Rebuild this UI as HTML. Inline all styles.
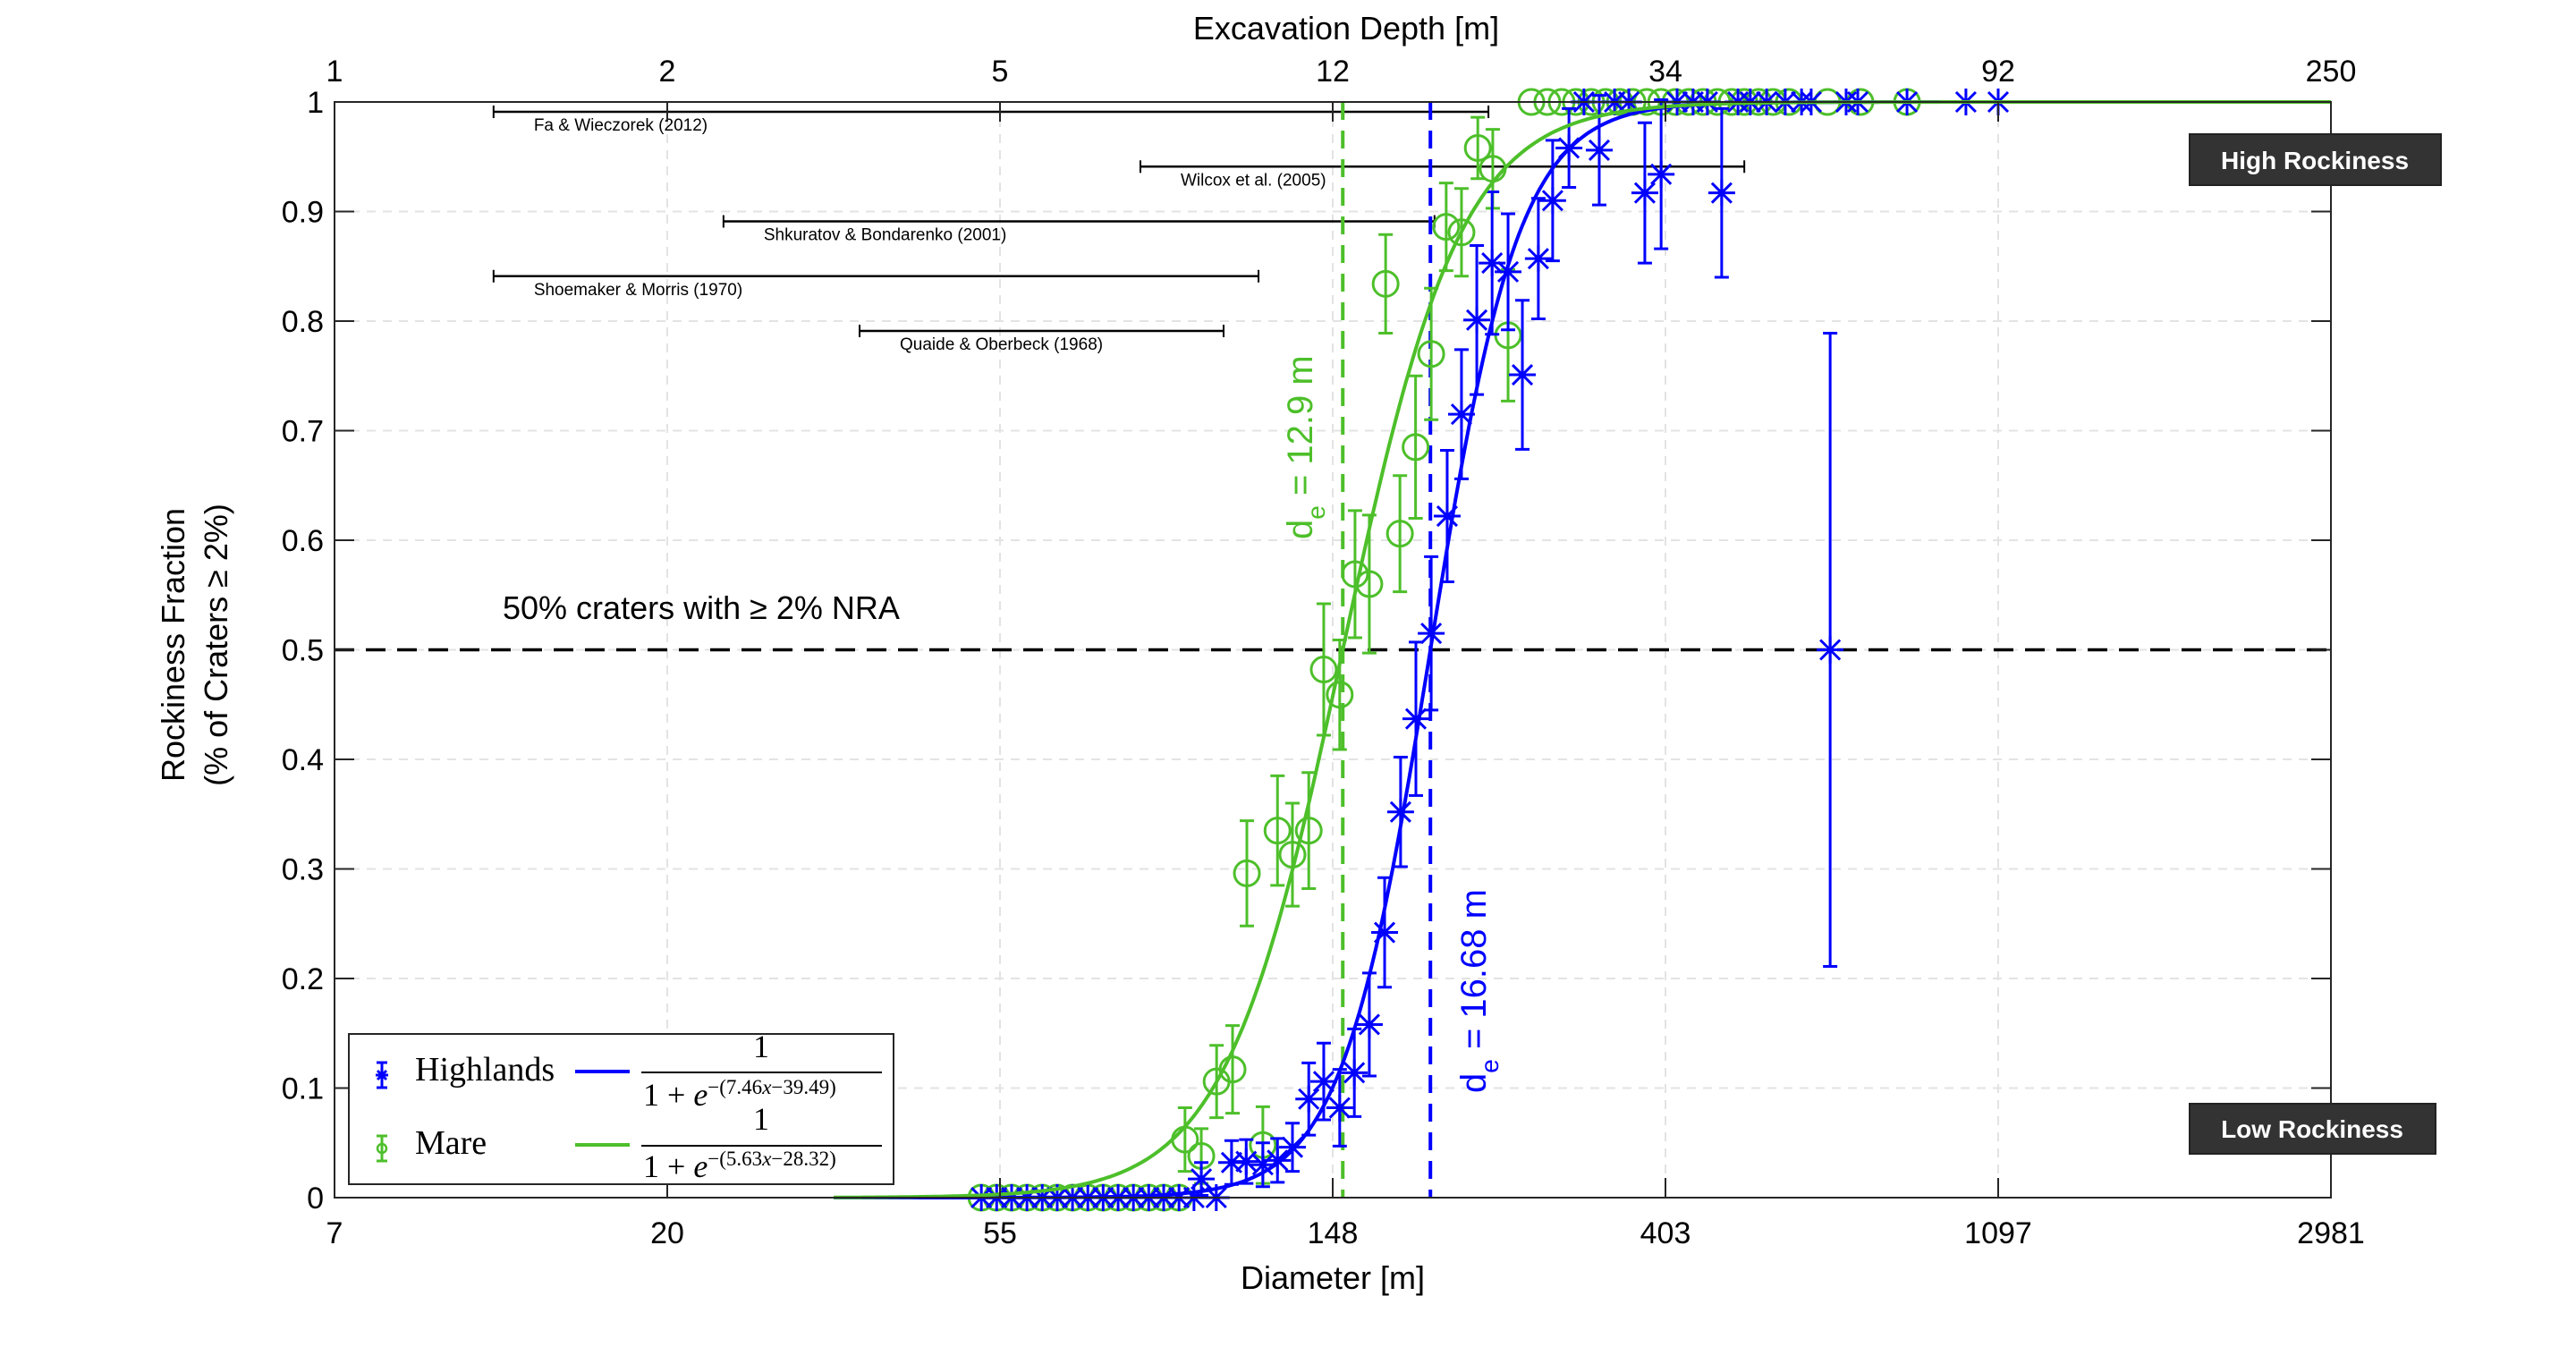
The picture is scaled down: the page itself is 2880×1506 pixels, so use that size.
<!DOCTYPE html>
<html><head><meta charset="utf-8"><title>Rockiness Fraction vs Diameter</title>
<style>
html,body{margin:0;padding:0;background:#fff;}
svg{display:block;font-family:"Liberation Sans",Arial,sans-serif;}
</style></head>
<body>
<svg id="chart" width="2880" height="1506" viewBox="0 0 2880 1506" xmlns="http://www.w3.org/2000/svg">
<rect x="0" y="0" width="2880" height="1506" fill="#fff"/>
<g id="grid"></g>
<g id="refs"></g>
<g id="guides"></g>
<g id="marks"></g>
<g id="axes"></g>
<g id="annot"></g>
</svg>
<script>
// ---- data (x values are ln(Diameter [m])) ----
const xTickLabels = ["7","20","55","148","403","1097","2981"];
const xTopTickLabels = ["1","2","5","12","34","92","250"];
const xTickLogs = [2,3,4,5,6,7,8];
const yTicks = [0,0.1,0.2,0.3,0.4,0.5,0.6,0.7,0.8,0.9,1];
const yTickLabels = ["0","0.1","0.2","0.3","0.4","0.5","0.6","0.7","0.8","0.9","1"];

const highlandsLogD = [3.944,3.990,4.035,4.081,4.127,4.172,4.218,4.264,4.310,4.355,4.401,4.447,4.492,4.538,4.583,4.650,
  4.605,4.696,4.740,4.790,4.834,4.879,4.928,4.973,5.021,5.065,5.110,5.156,5.204,5.250,5.296,5.344,5.387,5.433,5.479,5.527,5.570,5.618,5.661,5.710,5.801,5.938,5.987,6.169,6.495,
  5.755,5.847,5.890,6.035,6.083,6.126,6.218,6.255,6.304,6.360,6.409,6.438,6.543,6.578,6.726,6.903,7.000];
const highlandsFrac = [0,0,0,0,0,0,0,0,0,0,0,0,0,0,0,0,
  0.017,0.032,0.033,0.030,0.034,0.046,0.090,0.106,0.082,0.114,0.158,0.242,0.352,0.437,0.515,0.622,0.715,0.801,0.853,0.845,0.751,0.857,0.910,0.958,0.956,0.917,0.934,0.917,0.500,
  1,1,1,1,1,1,1,1,1,1,1,1,1,1,1,1,1];
const highlandsErr = [0,0,0,0,0,0,0,0,0,0,0,0,0,0,0,0,
  0.015,0.02,0.02,0.02,0.02,0.022,0.033,0.035,0.035,0.04,0.047,0.05,0.05,0.07,0.07,0.06,0.059,0.068,0.065,0.053,0.068,0.055,0.055,0.036,0.05,0.064,0.068,0.077,0.289,
  0,0,0,0,0,0,0,0,0,0,0,0,0,0,0,0,0];

const mareLogD = [3.944,3.990,4.035,4.081,4.127,4.172,4.218,4.264,4.310,4.355,4.401,4.447,4.492,4.538,
  4.556,4.605,4.651,4.699,4.742,4.790,4.834,4.879,4.928,4.973,5.021,5.067,5.110,5.159,5.202,5.249,5.296,5.341,5.387,5.436,5.481,5.527,
  5.597,5.645,5.688,5.731,5.777,5.820,5.863,5.901,5.944,5.987,6.030,6.070,6.113,6.156,6.199,6.237,6.280,6.323,6.371,6.487,6.586,6.726];
const mareFrac = [0,0,0,0,0,0,0,0,0,0,0,0,0,0,
  0.053,0.038,0.106,0.117,0.296,0.048,0.335,0.313,0.335,0.482,0.459,0.569,0.560,0.834,0.606,0.685,0.770,0.886,0.881,0.958,0.939,0.787,
  1,1,1,1,1,1,1,1,1,1,1,1,1,1,1,1,1,1,1,1,1,1];
const mareErr = [0,0,0,0,0,0,0,0,0,0,0,0,0,0,
  0.029,0.025,0.033,0.04,0.048,0.035,0.05,0.047,0.053,0.06,0.05,0.058,0.063,0.045,0.053,0.065,0.06,0.04,0.04,0.028,0.036,0.06,
  0,0,0,0,0,0,0,0,0,0,0,0,0,0,0,0,0,0,0,0,0,0];

const fitSlopes = [7.46, 5.63];
const fitIntercepts = [39.49, 28.32];
const fitStartLog = 3.5;

const refNames = ["Fa & Wieczorek (2012)","Wilcox et al. (2005)","Shkuratov & Bondarenko (2001)","Shoemaker & Morris (1970)","Quaide & Oberbeck (1968)"];
const refStartLog = [2.478,4.422,3.169,2.478,3.578];
const refEndLog = [5.468,6.237,5.306,4.777,4.672];
const refLevel = [0.991,0.941,0.891,0.841,0.791];

// ---- geometry ----
const L=374,R=2606,T=114,B=1339;
const X0=2,X1=8;
function xs(l){return L+(l-X0)/(X1-X0)*(R-L);}
function ys(v){return B-v*(B-T);}
const NS="http://www.w3.org/2000/svg";
const BLUE="#0000ff",GREEN="#4dbf2a",AX="#262626";
function mk(tag,attrs,parent,text){const e=document.createElementNS(NS,tag);for(const k in attrs)e.setAttribute(k,attrs[k]);if(text!==undefined)e.textContent=text;parent.appendChild(e);return e;}
const G=id=>document.getElementById(id);

// grid
const grid=G('grid');
xTickLogs.slice(1,-1).forEach(l=>{
  const e=mk('line',{x1:xs(l),x2:xs(l),y1:T,y2:B,stroke:"#e3e3e3","stroke-width":2,"stroke-dasharray":"10,8"},grid);
  
  
});
yTicks.slice(1,-1).forEach(v=>{
  const e=mk('line',{x1:L,x2:R,y1:ys(v),y2:ys(v),stroke:"#e3e3e3","stroke-width":2,"stroke-dasharray":"10,8"},grid);
  
  
});

// reference ranges
const refs=G('refs');
refNames.forEach((n,i)=>{
  const g=mk('g',{},refs);
  
  
  const y=ys(refLevel[i]),x1=xs(refStartLog[i]),x2=xs(refEndLog[i]);
  mk('line',{x1:x1,x2:x2,y1:y,y2:y,stroke:"#000","stroke-width":2.5},g);
  mk('line',{x1:x1,x2:x1,y1:y-7,y2:y+7,stroke:"#000","stroke-width":2},g);
  mk('line',{x1:x2,x2:x2,y1:y-7,y2:y+7,stroke:"#000","stroke-width":2},g);
  const t=mk('text',{x:x1+45,y:y+21,"font-size":19,fill:"#000"},g,n);
  
  
});

// guide lines
const guides=G('guides');
const h=mk('line',{x1:L,x2:R,y1:ys(0.5),y2:ys(0.5),stroke:"#000","stroke-width":3.5,"stroke-dasharray":"22,13"},guides);


const vg=mk('line',{x1:xs(fitIntercepts[1]/fitSlopes[1]),x2:xs(fitIntercepts[1]/fitSlopes[1]),y1:T,y2:B,stroke:GREEN,"stroke-width":4,"stroke-dasharray":"20,12"},guides);


const vb=mk('line',{x1:xs(fitIntercepts[0]/fitSlopes[0]),x2:xs(fitIntercepts[0]/fitSlopes[0]),y1:T,y2:B,stroke:BLUE,"stroke-width":4,"stroke-dasharray":"20,12"},guides);



// data marks
const marks=G('marks');
function errbar(g,x,y,e,c){
  if(e<=0)return;
  mk('line',{x1:x,x2:x,y1:ys(y-e),y2:ys(y+e),stroke:c,"stroke-width":3},g);
  mk('line',{x1:x-8,x2:x+8,y1:ys(y-e),y2:ys(y-e),stroke:c,"stroke-width":3},g);
  mk('line',{x1:x-8,x2:x+8,y1:ys(y+e),y2:ys(y+e),stroke:c,"stroke-width":3},g);
}
// mare
mareLogD.forEach((l,i)=>{
  const g=mk('g',{},marks);
  
  
  const x=xs(l),y=mareFrac[i];
  errbar(g,x,y,mareErr[i],GREEN);
  mk('circle',{cx:x,cy:ys(y),r:14,fill:"none",stroke:GREEN,"stroke-width":3},g);
});
// highlands
highlandsLogD.forEach((l,i)=>{
  const g=mk('g',{},marks);
  
  
  const x=xs(l),y=highlandsFrac[i],cy=ys(y);
  errbar(g,x,y,highlandsErr[i],BLUE);
  const s=15,d=11;
  mk('path',{d:`M${x-s},${cy}H${x+s}M${x},${cy-s}V${cy+s}M${x-d},${cy-d}L${x+d},${cy+d}M${x-d},${cy+d}L${x+d},${cy-d}`,stroke:BLUE,"stroke-width":3,fill:"none"},g);
});
// fits
[[0,BLUE,'highlands-fit'],[1,GREEN,'mare-fit']].forEach(([k,c,n])=>{
  let d="";
  for(let l=fitStartLog;l<=X1+1e-9;l+=0.01){
    const v=1/(1+Math.exp(-(fitSlopes[k]*l-fitIntercepts[k])));
    d+=(d?"L":"M")+xs(l).toFixed(1)+","+ys(v).toFixed(1);
  }
  const p=mk('path',{d:d,stroke:c,"stroke-width":4,fill:"none"},marks);
  
  
});

// axes
const axes=G('axes');
const box=mk('rect',{x:L,y:T,width:R-L,height:B-T,fill:"none",stroke:AX,"stroke-width":2},axes);


xTickLogs.forEach((l,i)=>{
  const x=xs(l);
  mk('line',{x1:x,x2:x,y1:B,y2:B-22,stroke:AX,"stroke-width":2},axes);
  mk('line',{x1:x,x2:x,y1:T,y2:T+22,stroke:AX,"stroke-width":2},axes);
  const t=mk('text',{x:x,y:1390,"font-size":34,"text-anchor":"middle",fill:"#000"},axes,xTickLabels[i]);
  
  
  const t2=mk('text',{x:x,y:91,"font-size":34,"text-anchor":"middle",fill:"#000"},axes,xTopTickLabels[i]);
  
  
});
yTicks.forEach((v,i)=>{
  const y=ys(v);
  mk('line',{x1:L,x2:L+22,y1:y,y2:y,stroke:AX,"stroke-width":2},axes);
  mk('line',{x1:R,x2:R-22,y1:y,y2:y,stroke:AX,"stroke-width":2},axes);
  const t=mk('text',{x:362,y:y+12,"font-size":34,"text-anchor":"end",fill:"#000"},axes,yTickLabels[i]);
  
  
});
</script>
<svg style="position:absolute;left:0;top:0" width="2880" height="1506" viewBox="0 0 2880 1506" xmlns="http://www.w3.org/2000/svg" font-family="Liberation Sans, Arial, sans-serif">
  <text x="1490" y="1441" font-size="36" text-anchor="middle">Diameter [m]</text>
  <text x="1505" y="44" font-size="36" text-anchor="middle">Excavation Depth [m]</text>
  <g transform="translate(218,721) rotate(-90)">
    <text x="0" y="-12" font-size="36" text-anchor="middle">Rockiness Fraction</text>
    <text x="0" y="36" font-size="36" text-anchor="middle">(% of Craters ≥ 2%)</text>
  </g>
  <text x="562" y="692" font-size="36">50% craters with ≥ 2% NRA</text>
  <text transform="translate(1467,603) rotate(-90)" font-size="40" fill="#4dbf2a">d<tspan font-size="28" dy="14">e</tspan><tspan dy="-14"> = 12.9 m</tspan></text>
  <text transform="translate(1661,1222) rotate(-90)" font-size="40" fill="#0000ff">d<tspan font-size="28" dy="14">e</tspan><tspan dy="-14"> = 16.68 m</tspan></text>
  <g>
    <rect x="2448" y="150" width="281" height="57" fill="#333" stroke="#222" stroke-width="2"/>
    <text x="2588" y="189" font-size="28" font-weight="bold" fill="#fff" text-anchor="middle">High Rockiness</text>
  </g>
  <g>
    <rect x="2448" y="1234" width="275" height="56" fill="#333" stroke="#222" stroke-width="2"/>
    <text x="2585" y="1272" font-size="28" font-weight="bold" fill="#fff" text-anchor="middle">Low Rockiness</text>
  </g>
  <g font-family="Liberation Serif, serif">
    <rect x="390" y="1156" width="609" height="168" fill="#fff" stroke="#262626" stroke-width="2"/>
    <g>
      <path d="M427,1188V1216M421,1188H433M421,1216H433M420,1202H434M427,1195V1209M422,1197L432,1207M422,1207L432,1197" stroke="#0000ff" stroke-width="3" fill="none"/>
      <text x="464" y="1208" font-size="38">Highlands</text>
      <line x1="643" x2="704" y1="1198" y2="1198" stroke="#0000ff" stroke-width="4"/>
      <text x="851" y="1182" font-size="36" text-anchor="middle">1</text>
      <line x1="717" x2="986" y1="1199" y2="1199" stroke="#000" stroke-width="2"/>
      <text x="719" y="1236" font-size="36">1 + <tspan font-style="italic">e</tspan><tspan font-size="23" dy="-13">−(7.46<tspan font-style="italic">x</tspan>−39.49)</tspan></text>
    </g>
    <g>
      <path d="M427,1270V1298M421,1270H433M421,1298H433" stroke="#4dbf2a" stroke-width="3" fill="none"/>
      <circle cx="427" cy="1284" r="5" fill="none" stroke="#4dbf2a" stroke-width="2.5"/>
      <text x="464" y="1290" font-size="38">Mare</text>
      <line x1="643" x2="704" y1="1280" y2="1280" stroke="#4dbf2a" stroke-width="4"/>
      <text x="851" y="1263" font-size="36" text-anchor="middle">1</text>
      <line x1="717" x2="986" y1="1281" y2="1281" stroke="#000" stroke-width="2"/>
      <text x="719" y="1316" font-size="36">1 + <tspan font-style="italic">e</tspan><tspan font-size="23" dy="-13">−(5.63<tspan font-style="italic">x</tspan>−28.32)</tspan></text>
    </g>
  </g>
</svg>
</body></html>
